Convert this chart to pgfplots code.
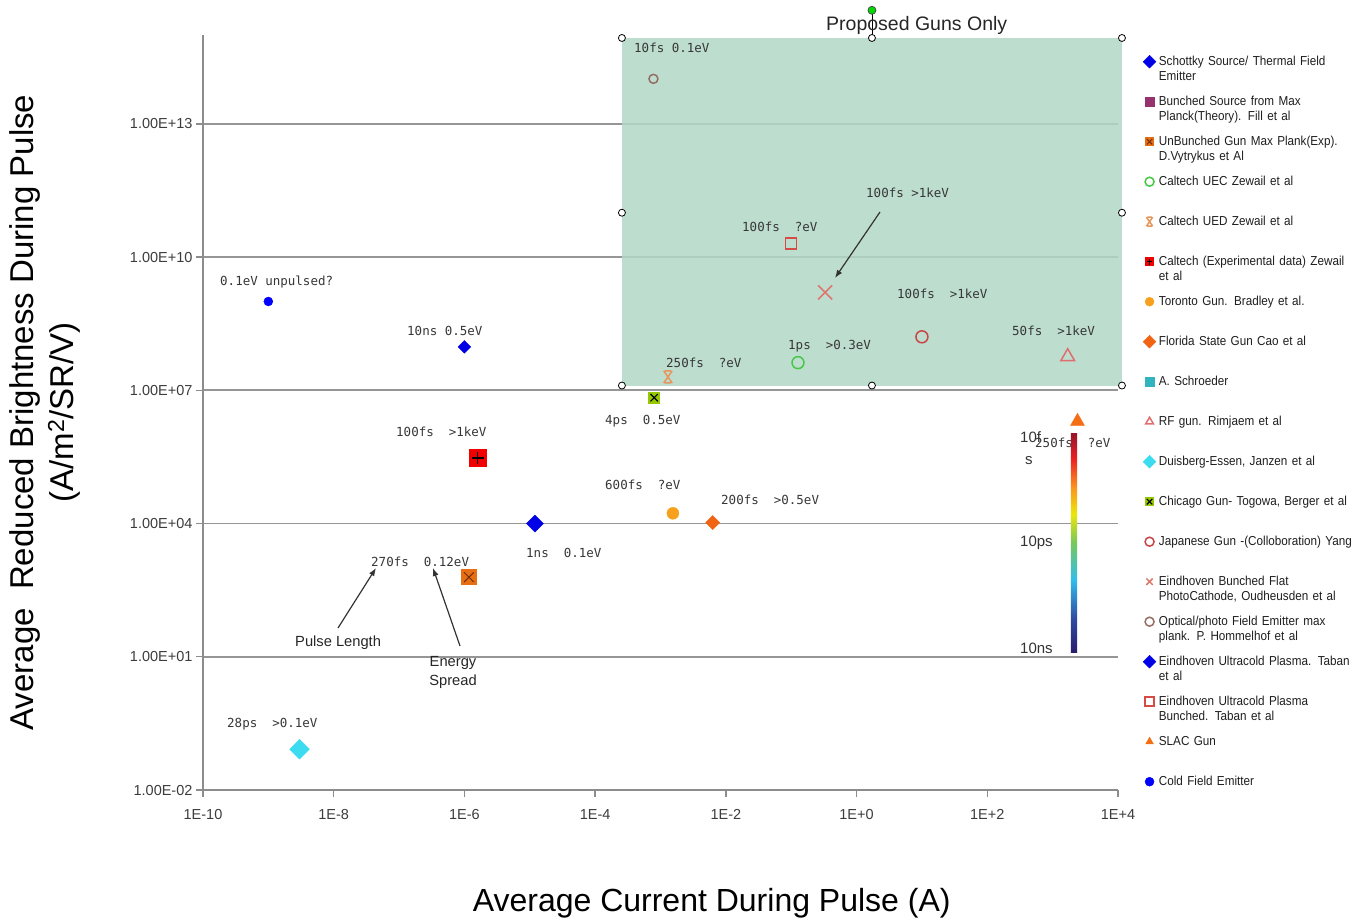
\documentclass[border=0pt]{standalone}
\usepackage{pgfplots}
\pgfplotsset{compat=1.18}
\usepackage{fontspec}
\setmainfont{Liberation Sans}
\newfontfamily\monofont{DejaVu Sans Mono}
\newfontfamily\legfont[FakeStretch=0.9]{Liberation Sans}
\usetikzlibrary{arrows.meta}

\definecolor{axgray}{RGB}{140,140,140}
\definecolor{gridgray}{RGB}{150,150,150}
\definecolor{tickgray}{RGB}{60,60,60}
\definecolor{legtext}{RGB}{30,30,30}
\definecolor{labgray}{RGB}{55,55,55}
\definecolor{rectgreen}{RGB}{178,215,199}
\definecolor{schblue}{RGB}{0,0,230}
\definecolor{bmpurple}{RGB}{150,50,110}
\definecolor{unborange}{RGB}{232,110,20}
\definecolor{unbdark}{RGB}{110,45,10}
\definecolor{uecgreen}{RGB}{70,200,70}
\definecolor{uedorange}{RGB}{230,150,90}
\definecolor{calred}{RGB}{240,0,0}
\definecolor{torange}{RGB}{247,160,30}
\definecolor{florange}{RGB}{240,100,20}
\definecolor{schteal}{RGB}{50,180,190}
\definecolor{rfred}{RGB}{225,110,110}
\definecolor{dcyan}{RGB}{60,220,240}
\definecolor{chigreen}{RGB}{150,200,0}
\definecolor{japred}{RGB}{200,70,70}
\definecolor{eflat}{RGB}{220,120,110}
\definecolor{homm}{RGB}{150,110,100}
\definecolor{ebred}{RGB}{215,75,70}
\definecolor{slac}{RGB}{245,110,20}
\definecolor{cfblue}{RGB}{0,0,255}
\definecolor{handlegreen}{RGB}{0,220,0}
\definecolor{cb0}{RGB}{40,30,110}
\definecolor{cb1}{RGB}{45,75,160}
\definecolor{cb2}{RGB}{50,190,235}
\definecolor{cb3}{RGB}{120,200,90}
\definecolor{cb4}{RGB}{235,230,10}
\definecolor{cb5}{RGB}{250,150,30}
\definecolor{cb6}{RGB}{235,35,35}
\definecolor{cb7}{RGB}{150,20,40}

\pgfdeclareverticalshading{jetbar}{20bp}{color(0bp)=(cb0); color(25bp)=(cb0); color(32.5bp)=(cb1); color(41.5bp)=(cb2); color(50bp)=(cb3); color(56.5bp)=(cb4); color(62.5bp)=(cb5); color(69bp)=(cb6); color(75bp)=(cb7); color(100bp)=(cb7)}

\pgfdeclareplotmark{sqplus}{%
  \pgfpathrectangle{\pgfqpoint{-\pgfplotmarksize}{-\pgfplotmarksize}}{\pgfqpoint{2\pgfplotmarksize}{2\pgfplotmarksize}}%
  \pgfusepathqfill
  \pgfpathmoveto{\pgfqpoint{-0.65\pgfplotmarksize}{0pt}}\pgfpathlineto{\pgfqpoint{0.65\pgfplotmarksize}{0pt}}%
  \pgfpathmoveto{\pgfqpoint{0pt}{-0.65\pgfplotmarksize}}\pgfpathlineto{\pgfqpoint{0pt}{0.65\pgfplotmarksize}}%
  \pgfusepathqstroke}
\pgfdeclareplotmark{sqcross}{%
  \pgfpathrectangle{\pgfqpoint{-\pgfplotmarksize}{-\pgfplotmarksize}}{\pgfqpoint{2\pgfplotmarksize}{2\pgfplotmarksize}}%
  \pgfusepathqfill
  \pgfpathmoveto{\pgfqpoint{-0.6\pgfplotmarksize}{-0.6\pgfplotmarksize}}\pgfpathlineto{\pgfqpoint{0.6\pgfplotmarksize}{0.6\pgfplotmarksize}}%
  \pgfpathmoveto{\pgfqpoint{-0.6\pgfplotmarksize}{0.6\pgfplotmarksize}}\pgfpathlineto{\pgfqpoint{0.6\pgfplotmarksize}{-0.6\pgfplotmarksize}}%
  \pgfusepathqstroke}
\pgfdeclareplotmark{xbar}{%
  \pgfpathmoveto{\pgfqpoint{-0.7\pgfplotmarksize}{-\pgfplotmarksize}}\pgfpathlineto{\pgfqpoint{0.7\pgfplotmarksize}{\pgfplotmarksize}}%
  \pgfpathmoveto{\pgfqpoint{-0.7\pgfplotmarksize}{\pgfplotmarksize}}\pgfpathlineto{\pgfqpoint{0.7\pgfplotmarksize}{-\pgfplotmarksize}}%
  \pgfpathmoveto{\pgfqpoint{-0.5\pgfplotmarksize}{\pgfplotmarksize}}\pgfpathlineto{\pgfqpoint{0.5\pgfplotmarksize}{\pgfplotmarksize}}%
  \pgfpathmoveto{\pgfqpoint{-0.5\pgfplotmarksize}{-\pgfplotmarksize}}\pgfpathlineto{\pgfqpoint{0.5\pgfplotmarksize}{-\pgfplotmarksize}}%
  \pgfusepathqstroke}

\begin{document}
\begin{tikzpicture}
\useasboundingbox (-203pt,-132pt) rectangle (1164pt,790pt);
\begin{axis}[
  at={(0pt,0pt)}, anchor=south west,
  scale only axis, width=915pt, height=755pt,
  xmode=log, ymode=log,
  xmin=1e-10, xmax=1e4, ymin=1e-2, ymax=1e15,
  axis x line*=bottom, axis y line*=left,
  axis line style={draw=axgray, line width=1.6pt},
  xtick={1e-10,1e-8,1e-6,1e-4,1e-2,1,1e2,1e4},
  xticklabels={1E-10,1E-8,1E-6,1E-4,1E-2,1E+0,1E+2,1E+4},
  ytick={1e-2,1e1,1e4,1e7,1e10,1e13},
  yticklabels={1.00E-02,1.00E+01,1.00E+04,1.00E+07,1.00E+10,1.00E+13},
  xminorticks=false, yminorticks=false,
  tick align=outside, major tick length=7pt,
  major tick style={draw=axgray, line width=1.4pt},
  ymajorgrids, major grid style={draw=gridgray, line width=1.6pt},
  ticklabel style={font=\fontsize{14.5}{16}\selectfont, text=tickgray},
  xticklabel style={yshift=-9pt},
  clip=false,
  xlabel={Average Current During Pulse (A)},
  xlabel style={font=\fontsize{32}{36}\selectfont, at={(axis description cs:0.556,-0.150)}, anchor=center},
  ylabel={Average~~Reduced Brightness During Pulse\\(A/m\textsuperscript{2}/SR/V)},
  ylabel style={font=\fontsize{33}{40}\selectfont, align=center, at={(axis description cs:-0.173,0.5)}, anchor=center},
  legend style={at={(1,1)}, anchor=north west, xshift=25pt, yshift=-18pt, draw=none, fill=none, inner sep=0pt,
    font=\legfont\fontsize{13}{15}\selectfont, text=legtext,
    cells={anchor=base west},
    nodes={text width=215pt, align=left, text height=10pt, text depth=26pt, inner ysep=2pt, inner xsep=3pt},
    row sep=0pt},
  legend image code/.code={\draw[#1] plot coordinates {(0pt,0.35em)};},
  legend image post style={mark size=4.5},
]
% proposed guns region
\addplot[forget plot, draw=none, fill=rectgreen, fill opacity=0.85] coordinates {(2.57e-4,1.28e7) (1.15e4,1.28e7) (1.15e4,8.57e14) (2.57e-4,8.57e14)} -- cycle;

\addplot[only marks, mark=square*, mark size=4.5, mark options={rotate=45, fill=schblue, draw=schblue}] coordinates {(1e-6,9.5e7)};
\addlegendentry{Schottky Source/ Thermal Field\\Emitter}
\addlegendimage{only marks, mark=square*, mark options={fill=bmpurple, draw=bmpurple}}
\addlegendentry{Bunched Source from Max\\Planck(Theory). Fill et al}
\addplot[only marks, mark=sqcross, mark size=8, mark options={fill=unborange, draw=unbdark, line width=1pt}] coordinates {(1.17e-6,620)};
\addlegendentry{UnBunched Gun Max Plank(Exp).\\D.Vytrykus et Al}
\addplot[only marks, mark=o, mark size=6, mark options={draw=uecgreen, line width=1.5pt}] coordinates {(0.127,4.2e7)};
\addlegendentry{Caltech UEC Zewail et al}
\addplot[only marks, mark=xbar, mark size=6, mark options={draw=uedorange, line width=1.5pt}] coordinates {(1.3e-3,2e7)};
\addlegendentry{Caltech UED Zewail et al}
\addplot[only marks, mark=sqplus, mark size=9, mark options={fill=calred, draw=black, line width=1.2pt}] coordinates {(1.6e-6,3e5)};
\addlegendentry{Caltech (Experimental data) Zewail\\et al}
\addplot[only marks, mark=*, mark size=6, mark options={fill=torange, draw=torange}] coordinates {(1.55e-3,1.7e4)};
\addlegendentry{Toronto Gun. Bradley et al.}
\addplot[only marks, mark=square*, mark size=5, mark options={rotate=45, fill=florange, draw=florange}] coordinates {(6.3e-3,1.05e4)};
\addlegendentry{Florida State Gun Cao et al}
\addlegendimage{only marks, mark=square*, mark options={fill=schteal, draw=schteal}}
\addlegendentry{A. Schroeder}
\addplot[only marks, mark=triangle, mark size=8, mark options={draw=rfred, line width=1.5pt}] coordinates {(1.7e3,5.7e7)};
\addlegendentry{RF gun. Rimjaem et al}
\addplot[only marks, mark=square*, mark size=7, mark options={rotate=45, fill=dcyan, draw=dcyan}] coordinates {(3e-9,0.083)};
\addlegendentry{Duisberg-Essen, Janzen et al}
\addplot[only marks, mark=sqcross, mark size=6, mark options={fill=chigreen, draw=black, line width=1.2pt}] coordinates {(8e-4,6.8e6)};
\addlegendentry{Chicago Gun- Togowa, Berger et al}
\addplot[only marks, mark=o, mark size=6, mark options={draw=japred, line width=1.5pt}] coordinates {(10,1.6e8)};
\addlegendentry{Japanese Gun -(Colloboration) Yang}
\addplot[only marks, mark=x, mark size=10, mark options={draw=eflat, line width=1.5pt}] coordinates {(0.33,1.6e9)};
\addlegendentry{Eindhoven Bunched Flat\\PhotoCathode, Oudheusden et al}
\addplot[only marks, mark=o, mark size=4.5, mark options={draw=homm, line width=1.5pt}] coordinates {(7.8e-4,1.03e14)};
\addlegendentry{Optical/photo Field Emitter max\\plank. P. Hommelhof et al}
\addplot[only marks, mark=square*, mark size=6, mark options={rotate=45, fill=schblue, draw=schblue}] coordinates {(1.2e-5,1e4)};
\addlegendentry{Eindhoven Ultracold Plasma. Taban\\et al}
\addplot[only marks, mark=square, mark size=5.5, mark options={draw=ebred, line width=1.5pt}] coordinates {(0.1,2e10)};
\addlegendentry{Eindhoven Ultracold Plasma\\Bunched. Taban et al}
\addplot[only marks, mark=triangle*, mark size=8, mark options={fill=slac, draw=slac}] coordinates {(2.4e3,2e6)};
\addlegendentry{SLAC Gun}
\addplot[only marks, mark=*, mark size=4.5, mark options={fill=cfblue, draw=cfblue}] coordinates {(1e-9,1e9)};
\addlegendentry{Cold Field Emitter}

% selection handles of the shaded region
\addplot[forget plot, draw=black, line width=0.8pt] coordinates {(1.72,8.57e14) (1.72,3.6e15)};
\addplot[forget plot, only marks, mark=*, mark size=3.5, mark options={fill=white, draw=black, line width=0.8pt}] coordinates {
(2.57e-4,8.57e14) (1.72,8.57e14) (1.15e4,8.57e14)
(2.57e-4,9.96e10) (1.15e4,9.96e10)
(2.57e-4,1.28e7) (1.72,1.28e7) (1.15e4,1.28e7)};
\addplot[forget plot, only marks, mark=*, mark size=4, mark options={fill=handlegreen, draw=black!70, line width=0.8pt}] coordinates {(1.72,3.6e15)};
\end{axis}

% data labels
\begin{scope}[every node/.style={anchor=west, inner sep=0pt, font=\monofont\fontsize{12.5}{14}\selectfont, text=labgray}]
\node at (17pt,508pt) {0.1eV unpulsed?};
\node at (204pt,459pt) {10ns 0.5eV};
\node at (193pt,358pt) {100fs~~>1keV};
\node at (168pt,228pt) {270fs~~0.12eV};
\node at (323pt,237pt) {1ns~~0.1eV};
\node at (24pt,66pt) {28ps~~>0.1eV};
\node at (402pt,369pt) {4ps~~0.5eV};
\node at (402pt,305pt) {600fs~~?eV};
\node at (518pt,290pt) {200fs~~>0.5eV};
\node at (463pt,427pt) {250fs~~?eV};
\node at (585pt,444pt) {1ps~~>0.3eV};
\node at (539pt,563pt) {100fs~~?eV};
\node at (663pt,597pt) {100fs >1keV};
\node at (694pt,496pt) {100fs~~>1keV};
\node at (809pt,459pt) {50fs~~>1keV};
\node at (431pt,742pt) {10fs 0.1eV};
\node at (832pt,347pt) {250fs~~?eV};
\end{scope}

\begin{scope}[-{Latex[length=8pt,width=6pt]}, line width=1.2pt, draw=black!80]
\draw (135pt,162pt) -- (173pt,222pt);
\draw (257pt,144pt) -- (230pt,222pt);
\draw (677pt,578pt) -- (632pt,512pt);
\end{scope}

\node[anchor=west, inner sep=0pt, font=\fontsize{14.7}{19}\selectfont, text=black!85] at (92pt,147pt) {Pulse Length};
\node[align=center, inner sep=0pt, font=\fontsize{14.7}{19}\selectfont, text=black!85] at (250pt,118pt) {Energy\\Spread};
\node[anchor=west, inner sep=0pt, font=\fontsize{19.5}{22}\selectfont, text=black!85] at (623pt,765pt) {Proposed Guns Only};

% colour bar
\shade[shading=jetbar] (863pt,138pt) rectangle (879pt,357pt);
\begin{scope}[every node/.style={anchor=west, inner sep=0pt, font=\fontsize{15}{17}\selectfont, text=black!80}]
\node at (817pt,353pt) {10f};
\node at (822pt,329pt) {s};
\node at (817pt,247pt) {10ps};
\node at (817pt,142pt) {10ns};
\end{scope}
\end{tikzpicture}
\end{document}
